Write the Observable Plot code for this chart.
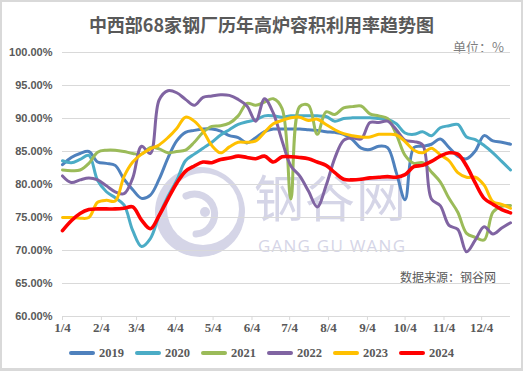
<!DOCTYPE html>
<html>
<head>
<meta charset="utf-8">
<script src="https://cdn.jsdelivr.net/npm/d3@7"></script>
<script src="https://cdn.jsdelivr.net/npm/@observablehq/plot@0.6"></script>
<style>
  html, body { margin: 0; padding: 0; background: #fff; }
  #wrap { position: relative; width: 525px; height: 372px; overflow: hidden; background: #fff; }
  #frame { position: absolute; left: 0; top: 0; width: 523px; height: 371px; box-sizing: border-box;
           border: 2px solid #d9d9d9; border-bottom-width: 3px; }
  #title { position: absolute; left: 0; top: 13px; width: 523px; text-align: center;
           font-family: "Noto Sans CJK SC", sans-serif; font-weight: bold; font-size: 18px;
           line-height: 22px; color: #595959; }
  #unit { position: absolute; left: 420px; top: 38px; width: 84px; text-align: right;
          font-family: "Noto Sans CJK SC", sans-serif; font-size: 13px; line-height: 17px; color: #7f7f7f; }
  #source { position: absolute; left: 370px; top: 268px; width: 126px; text-align: right;
            font-family: "Noto Sans CJK SC", sans-serif; font-size: 12px; line-height: 17px; color: #595959; }
  #wm { position: absolute; left: 0; top: 0; }
  #chart { position: absolute; left: 0; top: 0; }
  #legend { position: absolute; left: 0; top: 344px; width: 525px; height: 18px; }
  .li { position: absolute; top: 0; height: 18px; }
  .sw { position: absolute; top: 7px; left: 0; width: 26px; height: 4px; border-radius: 2px; }
  .lt { position: absolute; top: 0; left: 30px; font-family: "Liberation Serif", serif; font-weight: bold;
        font-size: 12.5px; line-height: 18px; color: #595959; }
</style>
</head>
<body>
<div id="wrap">
  <div id="frame"></div>
  <svg id="wm" width="525" height="372">
    <circle cx="200" cy="212" r="45" fill="#d5d5e7"></circle>
    <circle cx="203" cy="209" r="36" fill="#fff"></circle>
    <path d="M 186 196 A 20 20 0 1 1 196 234" fill="none" stroke="#d5d5e7" stroke-width="7" stroke-linecap="round"></path>
    <circle cx="205" cy="212" r="5" fill="#d5d5e7"></circle>
    <text x="254" y="217" font-family="Noto Sans CJK SC" font-size="50" fill="#d5d5e7" textLength="152" lengthAdjust="spacing">钢谷网</text>
    <text x="258" y="252" font-family="Open Sans" font-size="17" fill="#d5d5e7" textLength="147" lengthAdjust="spacing">GANG GU WANG</text>
  </svg>
  <div id="title">中西部68家钢厂历年高炉容积利用率趋势图</div>
  <div id="unit">单位：%</div>
  <div id="source">数据来源：钢谷网</div>
  <div id="chart"></div>
  <div id="legend"></div>
</div>
<script>
const years = ["2019", "2020", "2021", "2022", "2023", "2024"];
const colors = ["#4F81BD", "#4BACC6", "#9BBB59", "#8064A2", "#FFC000", "#FF0000"];
const lineWidths = [3, 3, 3, 3, 3, 3.6];

const xTickLabels = ["1/4", "2/4", "3/4", "4/4", "5/4", "6/4", "7/4", "8/4", "9/4", "10/4", "11/4", "12/4"];
const yTicks = [60, 65, 70, 75, 80, 85, 90, 95, 100];

// weekly capacity utilization (%), first week on 1/4
const s2019 = [83.0, 84.1, 84.7, 85.0, 83.4, 83.2, 82.9, 80.8, 79.2, 77.9, 78.4, 80.8, 84.0, 86.6, 87.9, 88.2, 88.4, 88.4, 88.1, 87.4, 87.1, 86.3, 87.1, 88.0, 88.4, 88.4, 88.4, 88.4, 88.3, 88.2, 88.0, 87.9, 87.6, 86.8, 85.5, 85.3, 85.8, 85.6, 81.8, 77.7, 85.6, 85.8, 86.1, 86.9, 85.6, 84.3, 83.9, 85.1, 87.4, 86.6, 86.4, 86.1];
const s2020 = [83.6, 83.3, 83.8, 84.4, 80.6, 78.9, 78.0, 76.9, 73.0, 70.6, 71.8, 75.3, 78.2, 80.6, 83.6, 84.6, 85.5, 86.4, 87.5, 88.3, 89.1, 89.5, 89.8, 90.4, 90.4, 90.2, 90.4, 90.4, 90.4, 90.4, 90.3, 89.6, 90.0, 90.1, 90.1, 90.1, 90.0, 89.9, 89.2, 87.8, 87.6, 88.0, 87.4, 88.6, 88.9, 89.1, 87.2, 86.8, 85.9, 84.8, 83.5, 82.2];
const s2021 = [82.2, 82.1, 82.2, 83.2, 84.9, 85.2, 85.2, 85.0, 84.7, 84.6, 85.6, 85.4, 84.8, 85.0, 85.2, 86.4, 87.9, 88.8, 88.9, 89.3, 90.4, 92.3, 92.0, 92.5, 93.0, 91.5, 77.8, 91.8, 92.0, 87.6, 91.0, 90.6, 91.6, 91.8, 91.9, 90.7, 90.4, 90.0, 87.6, 84.4, 83.2, 83.3, 81.9, 80.4, 77.9, 75.8, 72.6, 72.0, 71.6, 75.8, 76.7, 76.8];
const s2022 = [81.3, 80.3, 80.7, 81.0, 80.7, 79.8, 78.9, 78.6, 81.0, 85.8, 84.7, 92.8, 94.2, 93.9, 92.9, 92.0, 93.2, 93.4, 93.6, 93.5, 92.9, 91.9, 89.6, 93.0, 90.8, 86.6, 82.8, 81.3, 79.0, 76.6, 79.8, 84.0, 86.7, 87.1, 86.9, 89.4, 89.4, 89.6, 88.3, 86.7, 86.5, 86.0, 77.8, 76.8, 73.8, 73.2, 69.8, 71.6, 73.6, 72.5, 73.4, 74.2];
const s2023 = [75.0, 75.0, 74.9, 75.0, 77.3, 77.6, 77.5, 81.2, 83.4, 84.6, 85.4, 86.0, 87.1, 88.5, 90.2, 89.6, 88.1, 85.9, 84.8, 85.7, 86.4, 86.4, 86.6, 87.9, 89.2, 89.7, 90.1, 90.2, 89.7, 89.9, 89.1, 88.3, 87.7, 87.4, 87.2, 87.2, 87.6, 87.6, 87.5, 86.5, 85.2, 84.8, 85.5, 84.5, 83.6, 81.8, 81.1, 81.1, 79.9, 77.4, 77.0, 76.4];
const s2024 = [73.0, 74.5, 75.6, 76.2, 76.3, 76.3, 76.3, 76.4, 76.6, 74.6, 73.3, 75.3, 77.8, 80.2, 82.0, 82.8, 83.4, 83.3, 83.8, 84.0, 84.3, 84.1, 83.9, 84.3, 83.4, 84.2, 84.2, 84.1, 83.9, 83.4, 82.9, 81.8, 80.8, 80.7, 80.8, 81.0, 81.1, 81.2, 81.1, 81.5, 82.7, 82.9, 83.5, 84.3, 84.8, 84.6, 82.8, 80.2, 77.9, 77.0, 76.2, 75.7];

const seriesValues = [s2019, s2020, s2021, s2022, s2023, s2024];

// shared calendar axis (one common reference year), weekly from 1/4
const DAY = 864e5;
const start = Date.UTC(2001, 0, 4);
const weeks = s2019.map((_, i) => new Date(start + i * 7 * DAY));

const rows = [];
years.forEach((yr, k) => {
  seriesValues[k].forEach((v, i) => rows.push({year: yr, date: weeks[i], value: v}));
});

const tickDates = xTickLabels.map(l => {
  const [m, d] = l.split("/").map(Number);
  return new Date(Date.UTC(2001, m - 1, d));
});
const tickLabelMap = new Map(tickDates.map((d, i) => [+d, xTickLabels[i]]));

const chart = Plot.plot({
  width: 525,
  height: 340,
  marginLeft: 62,
  marginRight: 15,
  marginTop: 52,
  marginBottom: 24,
  x: {type: "utc", domain: [weeks[0], weeks[weeks.length - 1]], label: null},
  y: {domain: [60, 100], label: null},
  style: {background: "transparent", overflow: "visible"},
  marks: [
    Plot.gridY(yTicks, {stroke: "#d9d9d9", strokeOpacity: 1, strokeWidth: 1}),
    Plot.axisY(yTicks, {
      tickSize: 0, tickPadding: 10,
      tickFormat: d => d.toFixed(2) + "%",
      fontSize: 11, fontWeight: "bold", fontFamily: "Liberation Sans, sans-serif", fill: "#595959"
    }),
    Plot.axisX(tickDates, {
      tickSize: 4, tickPadding: 2,
      tickFormat: d => tickLabelMap.get(+d),
      stroke: "#d9d9d9", strokeOpacity: 1,
      fontSize: 13, fontWeight: "bold", fontFamily: "Liberation Serif, serif", fill: "#595959"
    }),
    ...years.map((yr, k) => Plot.line(rows.filter(r => r.year === yr), {
      x: "date", y: "value",
      stroke: colors[k], strokeWidth: lineWidths[k],
      curve: "catmull-rom", strokeLinejoin: "round", strokeLinecap: "round"
    }))
  ]
});
document.getElementById("chart").appendChild(chart);

const legend = document.getElementById("legend");
years.forEach((yr, k) => {
  const item = document.createElement("div");
  item.className = "li";
  item.style.left = (69 + 66 * k) + "px";
  const sw = document.createElement("div");
  sw.className = "sw";
  sw.style.background = colors[k];
  const t = document.createElement("div");
  t.className = "lt";
  t.textContent = yr;
  item.appendChild(sw);
  item.appendChild(t);
  legend.appendChild(item);
});
</script>
</body>
</html>
